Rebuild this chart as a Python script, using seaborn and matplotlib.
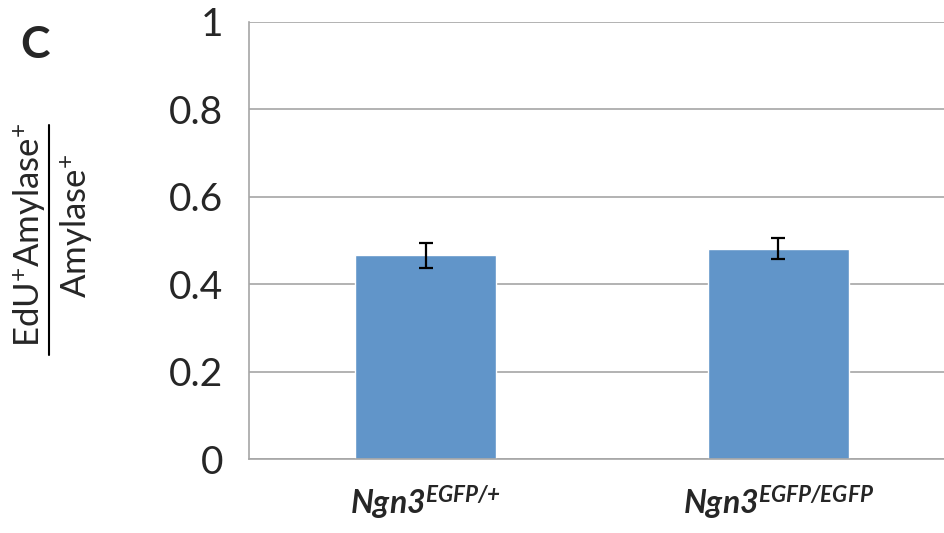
import matplotlib
matplotlib.use("Agg")
import matplotlib.pyplot as plt
import seaborn as sns
import pandas as pd
import numpy as np

# values
genotypes = [r"$Ngn3^{EGFP/{+}}$", r"$Ngn3^{EGFP/EGFP}$"]
ratio = [0.466, 0.481]
ratio_err = [0.029, 0.024]
yticks = [0, 0.2, 0.4, 0.6, 0.8, 1]
ytick_labels = ["0", "0.2", "0.4", "0.6", "0.8", "1"]

sns.set_style("white")
plt.rcParams["font.family"] = ["Lato", "DejaVu Sans"]
plt.rcParams["mathtext.fontset"] = "custom"
plt.rcParams["mathtext.rm"] = "Lato:italic:bold"
plt.rcParams["mathtext.it"] = "Lato:italic:bold"
plt.rcParams["mathtext.bf"] = "Lato:bold"
plt.rcParams["mathtext.sf"] = "Lato"

df = pd.DataFrame({"genotype": genotypes, "ratio": ratio, "err": ratio_err})

fig = plt.figure(figsize=(9.44, 5.33), dpi=100)
ax = fig.add_axes([0.2643, 0.1388, 0.747, 0.82])

sns.barplot(data=df, x="genotype", y="ratio", color="#6195C9", width=0.40,
            saturation=1, errorbar=None, ax=ax)
ax.errorbar(x=np.arange(len(df)), y=df["ratio"], yerr=df["err"], fmt="none",
            ecolor="black", elinewidth=1.6, capsize=5, capthick=1.6, zorder=5)

ax.set_ylim(0, 1)
ax.set_xlim(-0.5, 1.5)
ax.set_yticks(yticks)
ax.set_yticklabels(ytick_labels)
ax.yaxis.grid(True, color="#A6A6A6", linewidth=1.2)
ax.set_axisbelow(True)
ax.set_xlabel("")
ax.set_ylabel("")

for side in ["top", "right"]:
    ax.spines[side].set_visible(False)
for side in ["left", "bottom"]:
    ax.spines[side].set_color("#A6A6A6")
    ax.spines[side].set_linewidth(1.2)

ax.tick_params(axis="y", length=15, width=1.2, color="#A6A6A6", labelsize=28, pad=4)
ax.tick_params(axis="x", length=0, labelsize=23, pad=18)

# y label as a stacked fraction
fig.text(0.031, 1 - 235 / 533, r"EdU$^{\mathsf{+}}$Amylase$^{\mathsf{+}}$", rotation=90,
         fontsize=25, ha="center", va="center")
fig.text(0.081, 1 - 226 / 533, r"Amylase$^{\mathsf{+}}$", rotation=90, fontsize=25,
         ha="center", va="center")
fig.add_artist(plt.Line2D([0.0515, 0.0515], [1 - 355 / 533, 1 - 125 / 533],
                          color="black", linewidth=1.5, transform=fig.transFigure))

fig.text(0.037, 1 - 45 / 533, "C", fontsize=32, fontweight="bold", ha="center", va="center")

fig.savefig("out.png", dpi=100)
